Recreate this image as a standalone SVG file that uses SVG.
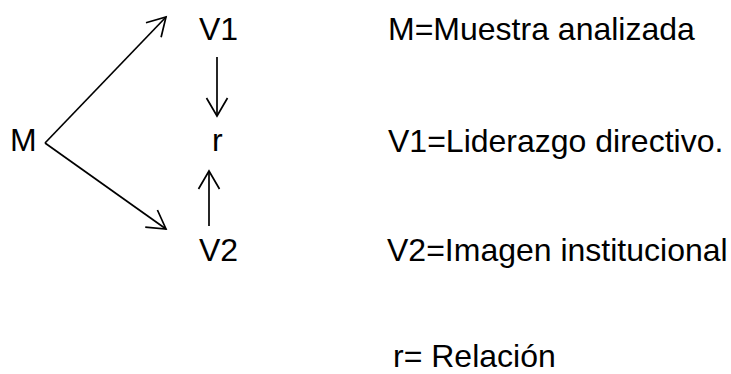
<svg xmlns="http://www.w3.org/2000/svg" width="731" height="374" viewBox="0 0 731 374">
<style>
text{font-family:"Liberation Sans",Arial,sans-serif;font-size:32px;fill:#000}
.c{stroke:#000;stroke-width:1.7;fill:none}
</style>
<defs>
<marker id="a" markerUnits="userSpaceOnUse" markerWidth="24" markerHeight="24" viewBox="-20 -12 22 24" refX="0" refY="0" orient="auto" overflow="visible">
<path d="M-18,-10.5 L0,0 L-18,10.5" fill="none" stroke="#000" stroke-width="1.7"/>
</marker>
</defs>
<rect width="731" height="374" fill="#fff"/>
<g id="connectors">
<path class="c" d="M45,143 L166,17" marker-end="url(#a)"/>
<path class="c" d="M45,143 L166,229" marker-end="url(#a)"/>
<path class="c" d="M217,57 L217,116" marker-end="url(#a)"/>
<path class="c" d="M209,226 L209,171" marker-end="url(#a)"/>
</g>
<g id="M"><text x="10" y="151">M</text></g>
<g id="V1"><text x="199" y="40">V1</text></g>
<g id="r"><text x="212" y="151">r</text></g>
<g id="V2"><text x="199" y="261">V2</text></g>
<g id="legend">
<text x="388" y="39.5">M=Muestra analizada</text>
<text x="388" y="152">V1=Liderazgo directivo.</text>
<text x="387" y="261">V2=Imagen institucional</text>
<text x="393" y="367">r= Relación</text>
</g>
</svg>
